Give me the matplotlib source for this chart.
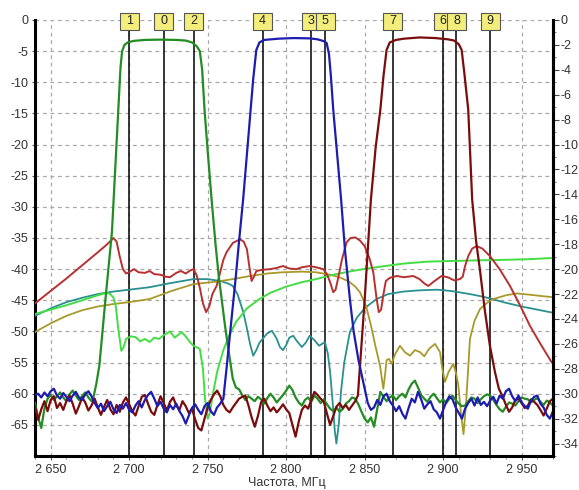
import numpy as np
import matplotlib
matplotlib.use("Agg")
import matplotlib.pyplot as plt
from matplotlib.patches import Rectangle
import matplotlib.transforms as mtransforms
from matplotlib.ticker import FixedLocator, MultipleLocator, FixedFormatter

plt.rcParams['font.family'] = ['Liberation Sans', 'DejaVu Sans']
plt.rcParams['axes.unicode_minus'] = False

# ---------------- data ----------------
x_ticks = [2650, 2700, 2750, 2800, 2850, 2900, 2950]
x_tick_labels = ["2 650", "2 700", "2 750", "2 800", "2 850", "2 900", "2 950"]
left_ticks = [0, -5, -10, -15, -20, -25, -30, -35, -40, -45, -50, -55, -60, -65]
right_ticks = [0, -2, -4, -6, -8, -10, -12, -14, -16, -18, -20, -22, -24, -26, -28, -30, -32, -34]
x_label = "Частота, МГц"

marker_labels = ['1', '0', '2', '4', '3', '5', '7', '6', '8', '9']
marker_freqs = [2700, 2722, 2741, 2785, 2816, 2825, 2868, 2900, 2908.5, 2930]

# S21 filter 1 (dark green)
green_lo_range = (2640, 2676)
green_lo = [-61.5, -63.8, -65.5, -62.4, -60.8, -60.2, -61.0, -60.4, -59.8, -60.6,
            -61.2, -60.1, -59.5, -60.3, -61.0, -60.4, -59.8, -60.6, -61.2]
green_band_f = [2677, 2679, 2681, 2683, 2685, 2687, 2689, 2691, 2692.5, 2693.5, 2694.5,
                2695.5, 2697, 2699, 2703, 2710, 2720, 2730, 2736, 2740, 2743, 2745,
                2746.5, 2748, 2750, 2752.5, 2755, 2757, 2759, 2761, 2763, 2766]
green_band_db = [-60.8, -58.5, -55.5, -50.0, -44.5, -39.3, -34.1, -24.5, -17.0, -12.8, -7.5,
                 -5.0, -4.0, -3.6, -3.35, -3.2, -3.15, -3.2, -3.3, -3.6, -4.2, -5.0,
                 -8.0, -14.4, -21.0, -28.8, -36.0, -41.0, -45.0, -49.0, -52.5, -57.6]
green_hi_range = (2768, 2970)
green_hi = [-59.0, -59.3, -60.2, -61.0, -60.4, -60.8, -61.2, -60.5, -60.9, -61.6,
            -60.7, -60.0, -60.6, -61.4, -60.8, -60.2, -59.5, -58.7, -59.4, -60.6,
            -61.4, -61.9, -61.0, -60.6, -61.3, -60.3, -60.8, -61.5, -60.9, -61.7,
            -62.4, -62.8, -62.2, -62.9, -62.5, -61.6, -61.2, -60.6, -60.8, -61.7,
            -62.9, -64.0, -64.6, -63.8, -65.3, -62.5, -59.7, -60.5, -61.2, -60.6,
            -60.3, -61.0, -60.4, -60.0, -60.6, -59.3, -58.4, -57.9, -59.0, -60.2,
            -60.8, -61.3, -60.5, -60.0, -60.7, -61.4, -60.9, -61.5, -60.8, -60.3,
            -61.0, -61.6, -62.0, -61.9, -61.2, -60.6, -60.8, -61.5, -60.9, -60.4,
            -60.1, -60.3, -61.0, -61.8, -62.5, -62.9, -62.1, -61.4, -61.6, -61.9,
            -61.2, -60.6, -60.8, -60.9, -61.4, -61.0, -60.7, -61.3, -61.8, -61.1,
            -61.4, -61.9]

# S21 filter 2 (blue)
blue_lo_range = (2640, 2758)
blue_lo = [-60.2, -60.0, -60.6, -59.8, -60.4, -59.6, -59.2, -60.3, -60.8, -59.9,
           -60.5, -61.2, -60.3, -59.7, -60.6, -61.0, -60.1, -59.6, -60.4, -61.5,
           -62.3, -61.6, -62.8, -62.0, -61.3, -62.5, -63.1, -61.8, -62.4, -61.5,
           -62.6, -63.0, -61.9, -61.2, -62.2, -61.0, -60.2, -59.7, -60.8, -62.0,
           -61.3, -62.4, -63.0, -61.8, -62.5, -61.6, -62.8, -63.6, -64.8, -63.5,
           -62.3, -61.7, -62.6, -63.3, -62.0, -61.5, -62.8, -63.4, -62.2, -61.6]
blue_band_f = [2760, 2762, 2764, 2766, 2768, 2770, 2772.6, 2775, 2777, 2779, 2781, 2783,
               2786, 2795, 2805, 2815, 2820, 2824, 2825.8, 2827.3, 2828.5, 2830, 2832.5,
               2835, 2837.5, 2840.6, 2843, 2846, 2849, 2851]
blue_band_db = [-60.8, -56.0, -51.0, -46.0, -41.0, -35.5, -28.8, -21.5, -15.5, -9.5, -4.8, -3.6,
                -3.2, -3.0, -2.9, -2.95, -3.1, -3.4, -3.7, -5.5, -9.0, -14.4, -21.5,
                -28.8, -37.0, -44.8, -50.0, -54.5, -58.0, -60.3]
blue_hi_range = (2852, 2970)
blue_hi = [-61.5, -62.6, -62.2, -61.0, -61.8, -60.4, -60.0, -61.2, -61.9, -62.8,
           -62.0, -63.2, -64.0, -62.3, -60.8, -61.4, -59.7, -60.9, -62.4, -61.7,
           -61.2, -62.5, -63.0, -64.0, -62.6, -61.3, -60.4, -60.9, -62.2, -63.1,
           -64.0, -62.4, -61.5, -60.8, -61.9, -60.6, -61.8, -61.3, -62.0, -61.1,
           -60.5, -61.6, -60.3, -60.8, -59.6, -59.2, -60.4, -61.2, -60.3, -61.4,
           -62.0, -62.4, -61.1, -60.5, -60.3, -61.6, -62.2, -63.4, -64.0, -62.8]

# S21 filter 3 (maroon)
maroon_lo_range = (2640, 2844)
maroon_lo = [-62.0, -64.2, -62.5, -61.2, -62.8, -61.0, -60.4, -62.3, -61.5, -62.6,
             -61.2, -60.3, -61.6, -63.2, -62.0, -60.6, -61.4, -62.7, -61.9, -60.8,
             -62.2, -63.4, -62.1, -61.0, -62.5, -63.3, -61.8, -62.9, -61.4, -60.6,
             -61.7, -62.8, -63.5, -62.0, -60.5, -60.2, -61.6, -62.9, -63.4, -61.8,
             -60.4, -61.5, -62.7, -61.3, -60.6, -61.9, -62.6, -61.2, -62.0, -63.1,
             -62.4, -64.1, -65.5, -65.9, -64.0, -62.2, -61.0, -60.1, -59.5, -60.4,
             -61.8, -62.6, -63.0, -62.2, -61.5, -60.8, -60.5, -60.3, -61.9, -63.8,
             -65.3, -63.6, -61.4, -60.8, -61.9, -62.8, -62.2, -63.0, -62.4, -61.7,
             -62.5, -63.1, -65.0, -66.9, -64.5, -62.6, -61.9, -62.4, -61.0, -59.7,
             -60.2, -60.8, -61.3, -63.2, -65.0, -63.6, -62.1, -61.5, -62.3, -61.8,
             -62.6, -61.9, -61.2]
maroon_band_f = [2845.7, 2848, 2850, 2852, 2854, 2857, 2860, 2862, 2864, 2866, 2870, 2875,
                 2885, 2895, 2903, 2907, 2910, 2911.8, 2913.5, 2916, 2918.5, 2921,
                 2923.4, 2926.5, 2929.8, 2933, 2935.5]
maroon_band_db = [-60.3, -52.0, -45.0, -37.0, -28.8, -20.5, -14.4, -9.0, -4.8, -3.6, -3.2, -3.0,
                  -2.8, -2.9, -3.1, -3.3, -3.9, -4.8, -8.5, -14.4, -28.8, -35.5,
                  -40.0, -46.5, -52.3, -56.5, -59.2]
maroon_hi_range = (2938, 2970)
maroon_hi = [-60.5, -61.8, -62.9, -62.2, -61.0, -60.8, -61.5, -62.3, -61.9, -60.9,
             -61.3, -61.8, -62.6, -63.5, -62.4, -61.2, -60.8]

# reflection-type traces
red_f = [2640, 2650, 2660, 2670, 2680, 2686, 2690, 2692, 2694, 2696, 2698, 2700, 2703, 2706,
         2710, 2713, 2716, 2720, 2723, 2726, 2730, 2733, 2736, 2739, 2741, 2743, 2745, 2747,
         2749, 2751, 2753, 2755.7, 2758, 2760, 2762, 2766, 2770.6, 2773, 2775, 2776.5, 2778,
         2779.5, 2781, 2785, 2790, 2794, 2798, 2802, 2806.6, 2810, 2815, 2819, 2823.6, 2826,
         2828, 2830, 2831.5, 2833, 2835.5, 2838.5, 2841, 2844, 2847, 2850, 2853, 2855.5,
         2857.5, 2859, 2860.5, 2862, 2863.5, 2866, 2870.4, 2875, 2881, 2885, 2888, 2890.6,
         2894, 2899, 2903, 2907, 2910.7, 2912.5, 2914, 2916, 2918.5, 2921.3, 2925, 2929.8,
         2936, 2942.6, 2949, 2955.3, 2962, 2969, 2970]
red_db = [-45.5, -43.5, -41.5, -39.4, -37.3, -36.0, -35.0, -35.6, -38.0, -40.0, -40.7, -40.5,
          -40.0, -40.5, -40.6, -40.3, -40.8, -40.9, -41.2, -41.3, -40.6, -40.3, -40.7, -40.2,
          -40.0, -41.0, -43.0, -45.5, -46.9, -46.0, -44.0, -42.7, -40.5, -38.5, -37.3, -35.8,
          -35.2, -35.6, -36.8, -39.5, -41.9, -41.2, -40.3, -40.1, -40.0, -39.8, -39.5, -39.9,
          -40.0, -39.7, -39.5, -39.7, -40.0, -40.8, -42.1, -43.7, -43.3, -41.6, -38.5, -35.7,
          -35.0, -34.9, -35.4, -36.3, -38.2, -40.5, -44.5, -46.9, -46.5, -44.0, -41.9, -41.4,
          -41.1, -41.3, -41.1, -41.6, -42.3, -42.7, -42.0, -41.1, -41.3, -41.8, -41.6, -41.2,
          -39.5, -37.9, -36.7, -36.3, -36.7, -37.9, -40.0, -42.7, -45.8, -49.1, -52.0, -54.9,
          -55.2]

lime_f = [2640, 2650, 2660, 2670, 2680, 2685.6, 2688, 2690, 2691.5, 2693, 2695, 2696.5, 2698,
          2701, 2704, 2707, 2710, 2713, 2716, 2719, 2722, 2726, 2729, 2731, 2733.4, 2736, 2739,
          2741, 2745, 2747, 2748.3, 2750, 2751.5, 2753, 2756, 2760, 2764, 2768, 2775, 2783,
          2790, 2800, 2810, 2819, 2830, 2840, 2849, 2860, 2875, 2890, 2904, 2920, 2940, 2955,
          2970]
lime_db = [-47.2, -46.5, -45.8, -45.0, -44.2, -43.8, -44.0, -44.6, -46.0, -49.5, -53.1, -52.5,
           -51.2, -50.8, -50.9, -51.6, -51.2, -51.7, -51.0, -51.2, -50.6, -50.0, -51.0, -50.6,
           -50.1, -50.8, -51.8, -52.3, -52.8, -56.0, -60.8, -64.0, -63.0, -60.5, -56.5, -53.0,
           -50.5, -48.5, -46.3, -44.8, -43.8, -42.8, -42.1, -41.6, -40.9, -40.4, -40.0, -39.6,
           -39.1, -38.8, -38.7, -38.6, -38.5, -38.4, -38.2]

teal_f = [2640, 2650, 2660, 2670, 2680, 2690, 2700, 2713, 2725, 2741, 2750, 2758, 2763, 2766,
          2769, 2772.7, 2775, 2777, 2779, 2781, 2783, 2785, 2788, 2791, 2794, 2796, 2798, 2800,
          2802, 2804.5, 2807, 2810, 2812.5, 2815, 2818, 2821, 2824.7, 2826.5, 2828, 2829.5,
          2831, 2832, 2833.5, 2835, 2837, 2840.6, 2845, 2850, 2853.4, 2857.6, 2865, 2874.6,
          2885, 2896, 2905, 2917, 2923, 2930, 2938.3, 2950, 2960, 2970]
teal_db = [-47.5, -46.3, -45.3, -44.6, -44.0, -43.6, -43.3, -42.9, -42.3, -41.6, -41.6, -41.9,
           -42.3, -42.7, -44.0, -46.9, -49.5, -52.0, -53.9, -53.0, -51.8, -51.2, -50.3, -49.9,
           -51.2, -52.5, -53.0, -52.2, -51.0, -50.7, -51.6, -52.5, -51.8, -50.7, -51.4, -52.3,
           -51.7, -53.5, -56.5, -61.0, -66.0, -68.0, -65.0, -59.5, -55.0, -50.1, -47.8, -46.3,
           -45.6, -44.8, -44.0, -43.6, -43.4, -43.3, -43.5, -44.0, -44.3, -44.7, -45.3, -46.0,
           -46.5, -47.0]

olive_f = [2640, 2650, 2660, 2670, 2680, 2690, 2700, 2713, 2727, 2741, 2756, 2766, 2777, 2788,
           2798, 2810, 2819, 2828, 2834, 2840, 2844, 2847, 2851, 2854, 2857, 2859.8, 2861.9,
           2863, 2864, 2865.5, 2867.2, 2869.5, 2872.5, 2875.5, 2878.9, 2882, 2885.2, 2888, 2891,
           2894.8, 2898, 2899.5, 2901.2, 2903.5, 2906.5, 2908.5, 2909.7, 2911.5, 2913, 2914.5,
           2917.1, 2920, 2923.5, 2928, 2932, 2940, 2946.8, 2955, 2962, 2970]
olive_db = [-50.1, -48.7, -47.5, -46.6, -46.0, -45.6, -45.3, -44.8, -43.5, -42.4, -42.0, -41.6,
            -41.1, -40.7, -40.5, -40.4, -40.5, -40.9, -41.3, -42.0, -42.8, -43.7, -46.0, -49.0,
            -52.5, -55.5, -59.2, -57.0, -54.6, -54.4, -55.2, -53.6, -52.3, -53.3, -53.9, -53.0,
            -53.3, -54.0, -52.8, -52.0, -53.3, -56.0, -58.1, -56.5, -55.2, -57.0, -58.7, -63.5,
            -66.5, -62.0, -51.2, -48.3, -46.4, -45.4, -44.8, -44.2, -43.9, -44.1, -44.3, -44.5]


def s21_trace(lo_range, lo, band_f, band_db, hi_range, hi):
    f = np.concatenate([np.linspace(lo_range[0], lo_range[1], len(lo)), band_f,
                        np.linspace(hi_range[0], hi_range[1], len(hi))])
    v = np.concatenate([lo, band_db, hi])
    return f, v


# ---------------- figure ----------------
W, H = 579, 490
fig = plt.figure(figsize=(W / 100, H / 100), dpi=100)
ax = fig.add_axes([35 / W, 1 - 456 / H, 518 / W, 436 / H])
ax.set_xlim(2640, 2970)
ax.set_ylim(-70, 0)

grid_kw = dict(color='#a8a8a8', lw=0.9, ls=(0, (3, 3)), zorder=0)
for xt in x_ticks:
    ax.axvline(xt, **grid_kw)
for yt in left_ticks:
    ax.axhline(yt, **grid_kw)

# markers
trans = mtransforms.blended_transform_factory(ax.transData, ax.transAxes)
box_w = 12.0
box_y0, box_h = 0.977, 0.040
order = np.argsort(marker_freqs, kind='stable')
for i in order:
    mf, ml = marker_freqs[i], marker_labels[i]
    ax.plot([mf, mf], [0, box_y0], transform=trans, color='black', lw=1.1, zorder=1,
            clip_on=False)
for i in order:
    mf, ml = marker_freqs[i], marker_labels[i]
    r = Rectangle((mf - box_w / 2, box_y0), box_w, box_h, transform=trans,
                  facecolor='#f3ee7b', edgecolor='#555555', lw=0.8, clip_on=False, zorder=20)
    ax.add_patch(r)
    ax.text(mf, box_y0 + box_h / 2, ml, transform=trans, ha='center', va='center',
            fontsize=9, color='#222222', zorder=21, clip_on=False)

# reflection traces
ax.plot(teal_f, teal_db, color='#2a9090', lw=1.3, zorder=3)
ax.plot(olive_f, olive_db, color='#a89a2a', lw=1.3, zorder=3)
ax.plot(lime_f, lime_db, color='#44dd44', lw=1.4, zorder=3)
ax.plot(red_f, red_db, color='#b83030', lw=1.4, zorder=4)

# transmission traces
gf, gv = s21_trace(green_lo_range, green_lo, green_band_f, green_band_db, green_hi_range, green_hi)
mf_, mv = s21_trace(maroon_lo_range, maroon_lo, maroon_band_f, maroon_band_db,
                    maroon_hi_range, maroon_hi)
bf, bv = s21_trace(blue_lo_range, blue_lo, blue_band_f, blue_band_db, blue_hi_range, blue_hi)
ax.plot(gf, gv, color='#238c23', lw=1.6, zorder=5)
ax.plot(mf_, mv, color='#7a0c0c', lw=1.6, zorder=5)
ax.plot(bf, bv, color='#1c1cb0', lw=1.6, zorder=6)

# axes styling
for s in ['left', 'right', 'bottom']:
    ax.spines[s].set_linewidth(2.2)
    ax.spines[s].set_color('black')
ax.spines['top'].set_visible(False)

ax.xaxis.set_major_locator(FixedLocator(x_ticks))
ax.xaxis.set_major_formatter(FixedFormatter(x_tick_labels))
ax.xaxis.set_minor_locator(MultipleLocator(10))
ax.yaxis.set_major_locator(FixedLocator(left_ticks))
ax.set_yticklabels([str(t) for t in left_ticks])
ax.tick_params(axis='x', which='major', direction='out', length=3, width=0.8, pad=3,
               labelsize=9, labelcolor='#333333', color='#555555')
ax.tick_params(axis='x', which='minor', direction='out', length=2, width=0.6, color='#777777')
ax.tick_params(axis='y', which='major', direction='out', length=2, width=0.8, pad=3,
               labelsize=9, labelcolor='#333333', color='#555555')

ax2 = ax.twinx()
ax2.set_ylim(-35, 0)
ax2.yaxis.set_major_locator(FixedLocator(right_ticks))
ax2.set_yticklabels([str(t) for t in right_ticks])
ax2.yaxis.set_minor_locator(MultipleLocator(1))
ax2.tick_params(axis='y', which='major', direction='out', length=4, width=0.8, pad=1.5,
                labelsize=9, labelcolor='#333333', color='#444444')
ax2.tick_params(axis='y', which='minor', direction='out', length=2, width=0.6, color='#666666')
for s in ['left', 'top', 'bottom']:
    ax2.spines[s].set_visible(False)
ax2.spines['right'].set_linewidth(2.2)

fig.text(287 / W, 1.5 / H, x_label, ha='center', va='bottom', fontsize=9,
         color='#333333')

fig.savefig('out.png', dpi=100)
